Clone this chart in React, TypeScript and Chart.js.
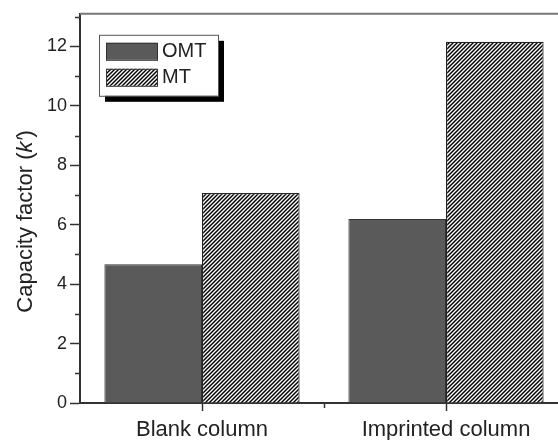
import { useEffect, useRef } from 'react';
import { Chart, registerables } from 'chart.js';

Chart.register(...registerables);

const categories = ['Blank column', 'Imprinted column'];
const seriesLabels = ['OMT', 'MT'];
const omtValues = [4.67, 6.19];
const mtValues = [7.07, 12.16];
const yMin = 0;
const yMax = 13.1;
const yMajorStep = 2;
const yMinorTicks = [1, 3, 5, 7, 9, 11, 13];
const yTitleParts = ['Capacity factor (', 'k\u2032', ')'];

const FONT = '"Liberation Sans", Arial, Helvetica, sans-serif';
const AXIS = '#333333';

function makeHatch(): CanvasPattern | string {
  const s = 4;
  const c = document.createElement('canvas');
  c.width = s;
  c.height = s;
  const g = c.getContext('2d');
  if (!g) return '#888';
  g.fillStyle = '#ffffff';
  g.fillRect(0, 0, s, s);
  g.strokeStyle = '#000000';
  g.lineWidth = 1.45;
  g.beginPath();
  g.moveTo(-1, s + 1);
  g.lineTo(s + 1, -1);
  g.moveTo(-1, 1);
  g.lineTo(1, -1);
  g.moveTo(s - 1, s + 1);
  g.lineTo(s + 1, s - 1);
  g.stroke();
  const p = g.createPattern(c, 'repeat');
  return p || '#888';
}

const decorPlugin = {
  id: 'decor',
  afterDraw(chart: any) {
    const { ctx, chartArea, scales } = chart;
    const y = scales.y;
    const x = scales.x;
    ctx.save();
    // top frame line
    ctx.strokeStyle = '#777777';
    ctx.lineWidth = 2;
    ctx.beginPath();
    ctx.moveTo(chartArea.left, chartArea.top);
    ctx.lineTo(chartArea.right, chartArea.top);
    ctx.stroke();
    // minor y ticks
    ctx.strokeStyle = AXIS;
    ctx.lineWidth = 1.5;
    ctx.beginPath();
    yMinorTicks.forEach((v) => {
      const py = Math.round(y.getPixelForValue(v)) + 0.5;
      ctx.moveTo(chartArea.left - 5, py);
      ctx.lineTo(chartArea.left, py);
    });
    // minor x ticks between categories
    for (let i = 0; i < categories.length - 1; i++) {
      const px = Math.round((x.getPixelForValue(i) + x.getPixelForValue(i + 1)) / 2) + 0.5;
      ctx.moveTo(px, chartArea.bottom);
      ctx.lineTo(px, chartArea.bottom + 5);
    }
    ctx.stroke();

    // y title with italic k'
    const normal = `22px ${FONT}`;
    const italic = `italic 22px ${FONT}`;
    const fonts = [normal, italic, normal];
    let total = 0;
    const widths = yTitleParts.map((t, i) => {
      ctx.font = fonts[i];
      const w = ctx.measureText(t).width;
      total += w;
      return w;
    });
    ctx.translate(32, (chartArea.top + chartArea.bottom) / 2 + 13);
    ctx.rotate(-Math.PI / 2);
    ctx.fillStyle = '#222222';
    ctx.textBaseline = 'alphabetic';
    ctx.textAlign = 'left';
    let cx = -total / 2;
    yTitleParts.forEach((t, i) => {
      ctx.font = fonts[i];
      ctx.fillText(t, cx, 0);
      cx += widths[i];
    });
    ctx.restore();

    // legend box
    ctx.save();
    const bx = chartArea.left + 19;
    const by = chartArea.top + 21;
    const bw = 119;
    const bh = 61;
    ctx.fillStyle = '#000000';
    ctx.fillRect(bx + 6, by + 6, bw, bh);
    ctx.fillStyle = '#ffffff';
    ctx.fillRect(bx, by, bw, bh);
    ctx.strokeStyle = '#555555';
    ctx.lineWidth = 1;
    ctx.strokeRect(bx + 0.5, by + 0.5, bw, bh);
    chart.data.datasets.forEach((ds: any, i: number) => {
      const sy = by + 8 + i * 26;
      ctx.fillStyle = ds.backgroundColor;
      ctx.fillRect(bx + 7, sy, 51, 17);
      ctx.strokeStyle = '#333333';
      ctx.strokeRect(bx + 7.5, sy + 0.5, 51, 17);
      ctx.fillStyle = '#222222';
      ctx.font = `20px ${FONT}`;
      ctx.textBaseline = 'middle';
      ctx.textAlign = 'left';
      ctx.fillText(ds.label, bx + 63, sy + 9);
    });
    ctx.restore();
  },
};

export default function App() {
  const ref = useRef<HTMLCanvasElement | null>(null);
  useEffect(() => {
    if (!ref.current) return;
    const hatch = makeHatch();
    const chart = new Chart(ref.current, {
      type: 'bar',
      data: {
        labels: categories,
        datasets: [
          {
            label: seriesLabels[0],
            data: omtValues,
            backgroundColor: '#5a5a5a',
            borderColor: '#333333',
            borderWidth: 1,
            categoryPercentage: 0.8,
            barPercentage: 1.0,
          },
          {
            label: seriesLabels[1],
            data: mtValues,
            backgroundColor: hatch as any,
            borderColor: '#222222',
            borderWidth: 1.2,
            categoryPercentage: 0.8,
            barPercentage: 1.0,
          },
        ],
      },
      options: {
        animation: false,
        responsive: false,
        devicePixelRatio: 1,
        layout: { padding: { top: 11, left: 0, right: 0, bottom: 0 } },
        plugins: { legend: { display: false }, tooltip: { enabled: false } },
        scales: {
          x: {
            offset: true,
            afterFit: (s: any) => {
              s.height = 37;
            },
            grid: {
              drawOnChartArea: false,
              offset: false,
              drawTicks: true,
              tickLength: 8,
              tickColor: AXIS,
              tickWidth: 1.5,
            },
            border: { display: true, color: AXIS, width: 2 },
            ticks: {
              font: { family: FONT, size: 22 },
              color: '#222222',
              padding: 6,
              maxRotation: 0,
            },
          },
          y: {
            min: yMin,
            max: yMax,
            afterFit: (s: any) => {
              s.width = 80;
            },
            grid: {
              drawOnChartArea: false,
              drawTicks: true,
              tickLength: 10,
              tickColor: AXIS,
              tickWidth: 1.5,
            },
            border: { display: true, color: AXIS, width: 2 },
            ticks: {
              stepSize: yMajorStep,
              includeBounds: false,
              font: { family: FONT, size: 18 },
              color: '#222222',
              padding: 3,
            },
          },
        },
      },
      plugins: [decorPlugin],
    });
    return () => chart.destroy();
  }, []);

  return (
    <div
      style={{
        position: 'fixed',
        left: 0,
        top: 0,
        width: 558,
        height: 440,
        overflow: 'hidden',
        background: '#ffffff',
      }}
    >
      <canvas ref={ref} width={568} height={440} style={{ display: 'block' }} />
    </div>
  );
}
